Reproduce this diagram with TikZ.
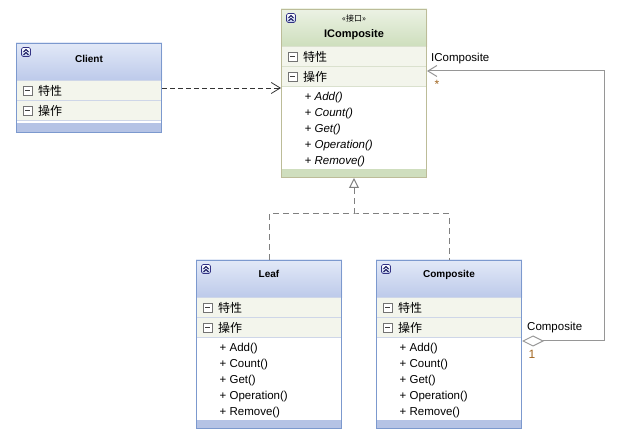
\documentclass[tikz,border=0pt]{standalone}
\usepackage{fontspec}
\setmainfont{Liberation Sans}
\newfontfamily\cjk{Noto Sans CJK SC}
\usepackage{xcolor}
\usetikzlibrary{arrows.meta, positioning, calc, backgrounds}

\definecolor{bluetop}{RGB}{226,233,247}
\definecolor{bluebot}{RGB}{188,201,234}
\definecolor{blueline}{RGB}{124,153,206}
\definecolor{bluebar}{RGB}{181,195,229}
\definecolor{bluesep}{RGB}{206,214,232}
\definecolor{greentop}{RGB}{236,242,228}
\definecolor{greenbot}{RGB}{205,222,188}
\definecolor{greenline}{RGB}{188,188,152}
\definecolor{greenbar}{RGB}{207,222,190}
\definecolor{greensep}{RGB}{218,225,206}
\definecolor{rowfill}{RGB}{243,245,236}
\definecolor{wire}{RGB}{150,150,150}
\definecolor{multcol}{RGB}{160,100,30}

\begin{document}
\begin{tikzpicture}[x=1pt, y=-1pt,
  classbox/.style={rectangle, draw=#1, line width=1pt, minimum width=145pt,
                   minimum height=168pt, inner sep=0pt, anchor=north west},
  title/.style={font=\bfseries\fontsize{10}{12}\selectfont, inner sep=0pt},
  stereo/.style={font=\cjk\fontsize{8}{10}\selectfont, inner sep=0pt},
  rowtext/.style={font=\cjk\fontsize{12}{14}\selectfont, anchor=west, inner sep=0pt},
  op/.style={font=\fontsize{11.5}{13}\selectfont, anchor=west, inner sep=0pt},
  rolelabel/.style={font=\fontsize{11.5}{13}\selectfont, anchor=west, inner sep=0pt},
  mult/.style={font=\fontsize{12}{13}\selectfont, text=multcol, inner sep=0pt},
  icon/.style={draw=black!60!blue!80, top color=white, bottom color=bluebot, line width=0.7pt, rounded corners=1.5pt},
  minusbox/.style={draw=black!55, fill=white, line width=0.7pt},
  dep/.style={draw=black!80, line width=0.8pt, dash pattern=on 5pt off 3pt},
  real/.style={draw=black!50, line width=1pt, dash pattern=on 6pt off 4pt},
  assoc/.style={draw=wire, line width=1pt}
]
\useasboundingbox (0,0) rectangle (625,441);

% ── Class boxes ──
\node[classbox=blueline, minimum height=89pt] (client) at (16,43) {};
\node[classbox=greenline] (icomp) at (281,9) {};
\node[classbox=blueline] (leaf) at (196,260) {};
\node[classbox=blueline] (comp) at (376,260) {};

% ── Headers ──
\node[title] (clienttitle) at ($(client.north)+(0,16)$) {Client};
\node[stereo] (istereo) at ($(icomp.north)+(0,9.5)$) {«接口»};
\node[title, font=\bfseries\fontsize{11}{13}\selectfont] (ititle) at ($(icomp.north)+(0,26)$) {IComposite};
\node[title] (leaftitle) at ($(leaf.north)+(0,13.5)$) {Leaf};
\node[title] (comptitle) at ($(comp.north)+(0,14.5)$) {Composite};

% ── Compartments ──
\foreach \c in {client, icomp, leaf, comp} {
  \node[rowtext] (\c attr) at ($(\c.north west)+(22,48)$) {特性};
  \node[rowtext] (\c ops)  at ($(\c.north west)+(22,68)$) {操作};
}
\foreach \m [count=\i from 0] in {Add, Count, Get, Operation, Remove}
  \node[op, font=\itshape\fontsize{11.5}{13}\selectfont] (iop\i) at ($(icomp.north west)+(23.5,88.5+16*\i)$) {+ \m()};
\foreach \c in {leaf, comp}
  \foreach \m [count=\i from 0] in {Add, Count, Get, Operation, Remove}
    \node[op] (\c op\i) at ($(\c.north west)+(23.5,89+16*\i)$) {+ \m()};

% ── Fills ──
\begin{scope}[on background layer]
  \foreach \c in {client, leaf, comp} {
    \fill[top color=bluetop, bottom color=bluebot] (\c.north west) rectangle ($(\c.north east)+(0,38)$);
    \fill[rowfill] ($(\c.north west)+(0,38)$) rectangle ($(\c.north east)+(0,78)$);
    \fill[bluebar] ($(\c.south west)+(0,-9.5)$) rectangle (\c.south east);
    \foreach \h in {38, 58, 78}
      \draw[bluesep, line width=1pt] ($(\c.north west)+(0,\h)$) -- ($(\c.north east)+(0,\h)$);
  }
  \fill[top color=greentop, bottom color=greenbot] (icomp.north west) rectangle ($(icomp.north east)+(0,38)$);
  \fill[rowfill] ($(icomp.north west)+(0,38)$) rectangle ($(icomp.north east)+(0,78)$);
  \fill[greenbar] ($(icomp.south west)+(0,-9)$) rectangle (icomp.south east);
  \foreach \h in {38, 58, 78}
    \draw[greensep, line width=1pt] ($(icomp.north west)+(0,\h)$) -- ($(icomp.north east)+(0,\h)$);
\end{scope}

% ── Collapse and minus icons ──
\foreach \c in {client, icomp, leaf, comp} {
  \draw[icon] ($(\c.north west)+(5.5,4.5)$) rectangle ++(9,9);
  \draw[black!70!blue, line width=0.8pt] ($(\c.north west)+(7.5,9)$) -- ++(2.5,-2.5) -- ++(2.5,2.5);
  \draw[black!70!blue, line width=0.8pt] ($(\c.north west)+(7.5,12)$) -- ++(2.5,-2.5) -- ++(2.5,2.5);
  \foreach \r in {attr, ops} {
    \draw[minusbox] ($(\c\r.west)+(-15,-4.5)$) rectangle ++(9,9);
    \draw[black!75, line width=1pt] ($(\c\r.west)+(-13,0)$) -- ++(5,0);
  }
}

% ── Dependency ──
\draw[dep, -{Straight Barb[length=9pt, width=11pt]}] (client.east) -- (client.east -| icomp.west);

% ── Realization ──
\coordinate (fork) at ($(icomp.south)+(0,36)$);
\draw[real] (leaf.north) |- (fork) -| (comp.north);
\draw[real, -{Triangle[open, length=10pt, width=10pt, fill=white]}] (fork) -- (icomp.south);

% ── Aggregation ──
\coordinate (turn) at (604,71);
\draw[assoc, {Diamond[open, length=22pt, width=11pt, fill=white]}-{Straight Barb[length=9pt, width=11pt]}]
  ($(comp.north east)+(0,81)$) -| (turn) -- (turn -| icomp.east);
\node[rolelabel] (rolei) at (431,59) {IComposite};
\node[mult] (multi) at (437,84) {*};
\node[rolelabel] (rolec) at (527,328) {Composite};
\node[mult] (multc) at (532,354) {1};
\end{tikzpicture}
\end{document}
